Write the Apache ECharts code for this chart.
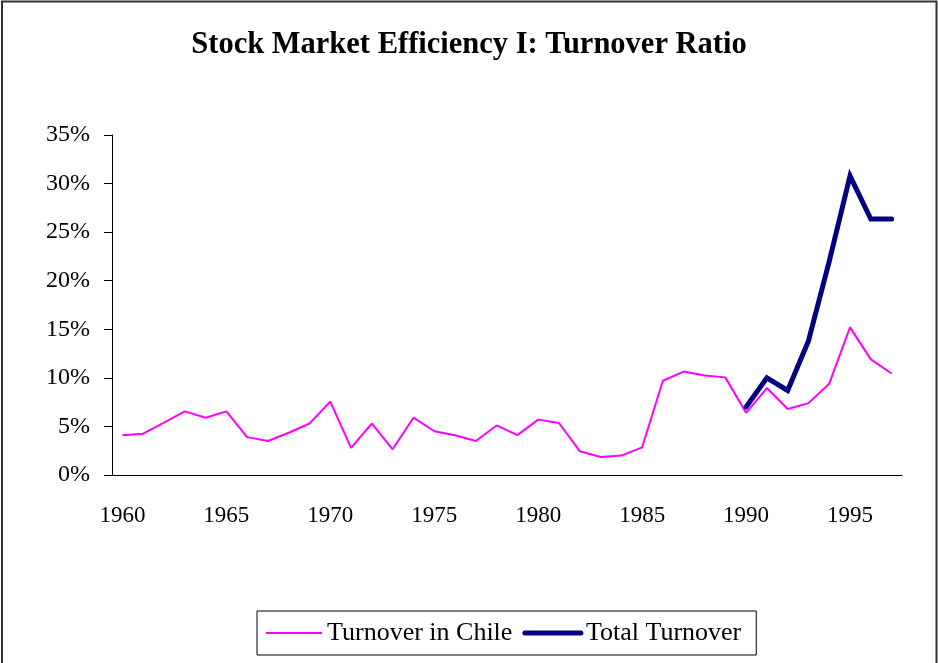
<!DOCTYPE html>
<html>
<head>
    <meta charset="utf-8">
    <title>Stock Market Efficiency I</title>
    <script src="https://cdn.jsdelivr.net/npm/echarts@6/dist/echarts.min.js"></script>
    <style>
        html, body { margin: 0; padding: 0; background: #fff; overflow: hidden; }
    </style>
</head>
<body>
    <div id="main" style="width: 938px;height:663px;"></div>
    <script type="text/javascript">
        // years on the category axis
        var years = [];
        for (var y = 1960; y <= 1997; y++) years.push(String(y));

        // turnover ratio, in percent
        var chile = [4.1, 4.25, 5.4, 6.55, 5.9, 6.55, 3.9, 3.5, 4.35, 5.3,
            7.55, 2.8, 5.3, 2.65, 5.9, 4.5, 4.1, 3.5, 5.1, 4.1,
            5.7, 5.35, 2.45, 1.85, 2.0, 2.85, 9.7, 10.65, 10.25, 10.05,
            6.4, 8.95, 6.8, 7.4, 9.4, 15.2, 11.9, 10.45];
        var total = [null, null, null, null, null, null, null, null, null, null,
            null, null, null, null, null, null, null, null, null, null,
            null, null, null, null, null, null, null, null, null, null,
            7.0, 10.0, 8.7, 13.8, 22.0, 30.8, 26.35, 26.35];

        var yTicks = [0, 5, 10, 15, 20, 25, 30, 35];
        var serif = 'Liberation Serif';

        var myChart = echarts.init(document.getElementById('main'));
        var option = {
            backgroundColor: '#fff',
            animation: false,
            title: {
                text: 'Stock Market Efficiency I: Turnover Ratio',
                left: 'center',
                top: 25,
                textStyle: { fontFamily: serif, fontWeight: 'bold', fontSize: 30.5, color: '#000' }
            },
            graphic: [{
                type: 'rect',
                shape: { x: 2, y: 1.5, width: 934.5, height: 720 },
                style: { fill: 'none', stroke: '#333', lineWidth: 2 },
                silent: true
            }],
            legend: {
                bottom: 8,
                left: 257,
                padding: [9, 15, 9, 8],
                borderColor: '#000',
                borderWidth: 1,
                itemWidth: 56,
                itemHeight: 14,
                itemGap: 10,
                itemStyle: { opacity: 0 },
                textStyle: { fontFamily: serif, fontSize: 26, color: '#000' },
                data: [
                    { name: 'Turnover in Chile', lineStyle: { width: 2 } },
                    { name: 'Total Turnover', lineStyle: { width: 5 } }
                ]
            },
            grid: { left: 112, right: 36, top: 135, bottom: 188 },
            xAxis: {
                type: 'category',
                data: years,
                boundaryGap: true,
                axisLine: { lineStyle: { color: '#000', width: 1 } },
                axisTick: { interval: 4, length: 8, lineStyle: { color: '#000' } },
                axisLabel: { interval: 4, margin: 29, fontFamily: serif, fontSize: 23, color: '#000' },
                splitLine: { show: false }
            },
            yAxis: {
                type: 'value',
                min: yTicks[0],
                max: yTicks[yTicks.length - 1],
                interval: 5,
                axisLine: { show: true, lineStyle: { color: '#000', width: 1 } },
                axisTick: { show: true, length: 8, lineStyle: { color: '#000' } },
                axisLabel: { margin: 22, fontFamily: serif, fontSize: 24, color: '#000', formatter: '{value}%' },
                splitLine: { show: false }
            },
            series: [
                {
                    name: 'Turnover in Chile',
                    type: 'line',
                    data: chile,
                    symbol: 'none',
                    color: '#FF00FF',
                    lineStyle: { color: '#FF00FF', width: 2 }
                },
                {
                    name: 'Total Turnover',
                    type: 'line',
                    data: total,
                    symbol: 'none',
                    color: '#000080',
                    lineStyle: { color: '#000080', width: 5, cap: 'round', join: 'miter' }
                }
            ]
        };

        myChart.setOption(option);
    </script>
</body>
</html>
